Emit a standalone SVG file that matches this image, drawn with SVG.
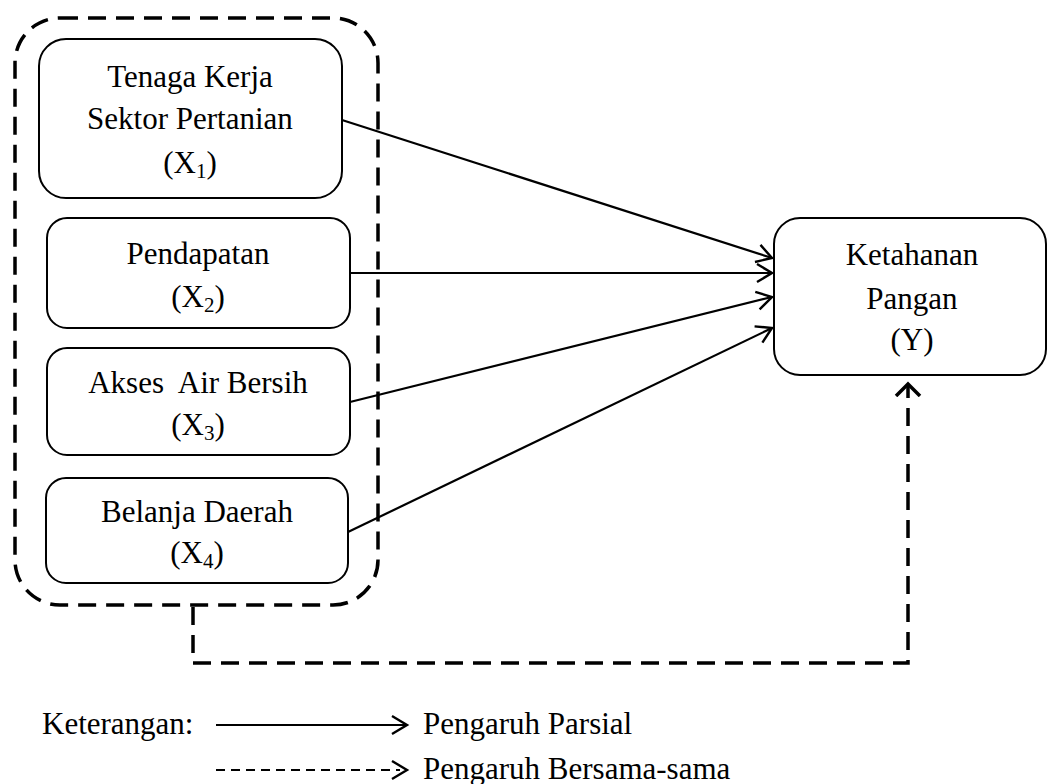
<svg xmlns="http://www.w3.org/2000/svg" width="1048" height="784" viewBox="0 0 1048 784">
<style>
text{font-family:"Liberation Serif","Times New Roman",serif;font-size:31px;fill:#000;text-anchor:middle;white-space:pre}
.l{text-anchor:start}
.box{fill:#fff;stroke:#000;stroke-width:2}
.arr{fill:none;stroke:#000;stroke-width:2.2}
.dash{fill:none;stroke:#000;stroke-width:3.5;stroke-dasharray:18 10}
.sub{font-size:21px}
</style>
<defs>
<marker id="ah" markerUnits="userSpaceOnUse" markerWidth="24" markerHeight="24" refX="16" refY="10" orient="auto" viewBox="0 0 24 20">
<path d="M1,1 L16,10 L1,19" fill="none" stroke="#000" stroke-width="2.4"/>
</marker>
<marker id="ahd" markerUnits="userSpaceOnUse" markerWidth="28" markerHeight="28" refX="13" refY="13" orient="auto" viewBox="0 0 28 26">
<path d="M1,1 L13,13 L1,25" fill="none" stroke="#000" stroke-width="3.5"/>
</marker>
</defs>
<g id="group-x">
<rect class="dash" x="15" y="18" width="363" height="587" rx="45" ry="45"/>
</g>
<g id="x1">
<rect class="box" x="39" y="39" width="303" height="159" rx="27"/>
<text x="190" y="87">Tenaga Kerja</text>
<text x="190" y="129">Sektor Pertanian</text>
<text x="190" y="173">(X<tspan class="sub" dy="5">1</tspan><tspan dy="-5">)</tspan></text>
</g>
<g id="x2">
<rect class="box" x="47" y="218" width="303" height="110" rx="20"/>
<text x="198" y="264">Pendapatan</text>
<text x="198" y="307">(X<tspan class="sub" dy="5">2</tspan><tspan dy="-5">)</tspan></text>
</g>
<g id="x3">
<rect class="box" x="47" y="348" width="303" height="107" rx="20"/>
<text x="198" y="393">Akses  Air Bersih</text>
<text x="198" y="435">(X<tspan class="sub" dy="5">3</tspan><tspan dy="-5">)</tspan></text>
</g>
<g id="x4">
<rect class="box" x="46" y="478" width="302" height="105" rx="20"/>
<text x="197" y="522">Belanja Daerah</text>
<text x="197" y="563">(X<tspan class="sub" dy="5">4</tspan><tspan dy="-5">)</tspan></text>
</g>
<g id="y">
<rect class="box" x="774" y="218" width="272" height="157" rx="26"/>
<text x="912" y="265">Ketahanan</text>
<text x="912" y="309">Pangan</text>
<text x="912" y="350">(Y)</text>
</g>
<g id="connectors">
<line class="arr" x1="342" y1="120" x2="772" y2="258" marker-end="url(#ah)"/>
<line class="arr" x1="350" y1="273" x2="772" y2="273" marker-end="url(#ah)"/>
<line class="arr" x1="350" y1="402" x2="772" y2="297" marker-end="url(#ah)"/>
<line class="arr" x1="348" y1="532" x2="772" y2="328" marker-end="url(#ah)"/>
<path class="dash" d="M193,607 V663 H908 V384" marker-end="url(#ahd)"/>
</g>
<g id="legend">
<text class="l" x="42" y="734">Keterangan:</text>
<line class="arr" x1="216" y1="725" x2="407" y2="725" marker-end="url(#ah)"/>
<text class="l" x="423" y="734">Pengaruh Parsial</text>
<line x1="216" y1="770" x2="400" y2="770" stroke="#000" stroke-width="2.2" stroke-dasharray="9 6"/>
<path d="M392,761 L407,770 L392,779" fill="none" stroke="#000" stroke-width="2.4"/>
<text class="l" x="423" y="779">Pengaruh Bersama-sama</text>
</g>
</svg>
